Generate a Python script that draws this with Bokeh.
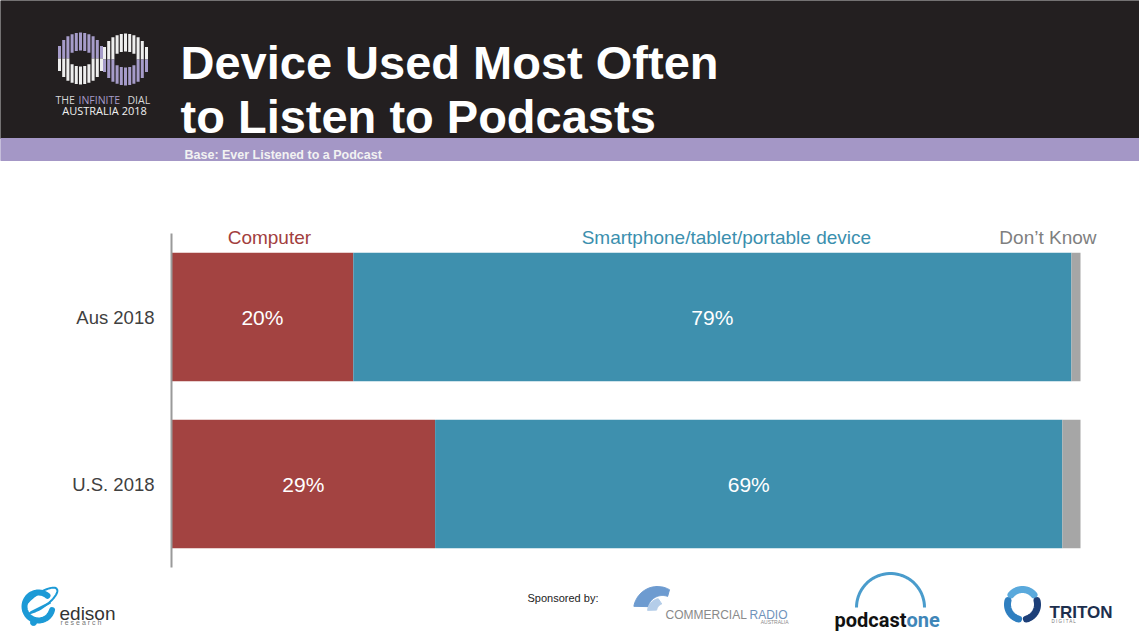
import numpy as np
from bokeh.plotting import figure
from bokeh.models import ColumnDataSource, Range1d, LinearAxis, FixedTicker
from bokeh.core.properties import value
from bokeh.embed import file_html
from bokeh.resources import INLINE

# ---------------- data ----------------
years = ["Aus 2018", "U.S. 2018"]
computer = [20, 29]
smartphone = [79, 69]
dont_know = [1, 2]
series_keys = ["computer", "smartphone", "dont_know"]
series_names = ["Computer", "Smartphone/tablet/portable device", "Don\u2019t Know"]
colors = ["#a34341", "#3e90ae", "#a6a6a6"]
label_colors = ["#a2403e", "#3b8fae", "#7f7f7f"]
title_lines = ["Device Used Most Often", "to Listen to Podcasts"]
base_note = "Base: Ever Listened to a Podcast"

# ---------------- page geometry (pixels) ----------------
W, H = 1139, 640
FL, FR, FT, FB = 171, 1080, 233, 567          # chart plotting area
FONT = "Liberation Sans"
n = len(years)
xpp = (FR - FL) / 100.0
ypu = (FB - FT) / n

p = figure(width=W, height=H,
           x_range=Range1d(-FL / xpp, 100 + (W - FR) / xpp),
           y_range=Range1d(-(H - FB) / ypu, n + FT / ypu),
           x_axis_type=None, y_axis_type=None, toolbar_location=None,
           output_backend="svg", min_border=0, outline_line_color=None,
           background_fill_color="white", border_fill_color="white")
p.extra_x_ranges = {"px": Range1d(0, W)}
p.extra_y_ranges = {"py": Range1d(H, 0)}
PG = dict(x_range_name="px", y_range_name="py")

# ---------------- header ----------------
p.quad(left=0, right=W, top=0, bottom=138, color="#231f20", **PG)
p.quad(left=0, right=W, top=138, bottom=160, color="#a497c6", **PG)
p.text(x=[180, 180], y=[62, 116], text=title_lines, text_font=value(FONT),
       text_font_style="bold", text_font_size="47px", text_color="white",
       text_baseline="alphabetic", **PG)
p.text(x=[184], y=[154], text=[base_note], text_font=value(FONT),
       text_font_style="bold", text_font_size="12.5px", text_color="#f2f2f2",
       text_baseline="alphabetic", **PG)


def ring(cx, cy, top_col, bot_col):
    rxo, ryo, rxi, ryi = 24, 26, 12, 8
    x0, y0, x1, y1, cl = [], [], [], [], []
    for dx in np.arange(-21, 22, 4.2):
        ho = ryo * np.sqrt(max(0.0, 1 - (dx / rxo) ** 2))
        hi = ryi * np.sqrt(max(0.0, 1 - (dx / rxi) ** 2)) if abs(dx) < rxi else 0.0
        x0 += [cx + dx, cx + dx]
        x1 += [cx + dx, cx + dx]
        y0 += [cy - ho, cy + hi]
        y1 += [cy - hi, cy + ho]
        cl += [top_col, bot_col]
    p.segment(x0=x0, y0=y0, x1=x1, y1=y1, line_color=cl, line_width=3, **PG)


ring(80, 58, "#a69cca", "#eeeeee")
ring(125, 59, "#eeeeee", "#a69cca")
for tx, tt, tc in [(55, "THE", "#d8d8d8"), (78, "INFINITE", "#a69cca"), (127, "DIAL", "#d8d8d8")]:
    p.text(x=[tx], y=[99], text=[tt], text_font=value("Open Sans"),
           text_font_size="10.5px", text_color=tc, text_baseline="alphabetic", **PG)
p.text(x=[104], y=[110], text=["AUSTRALIA 2018"], text_font=value("Open Sans"),
       text_font_size="11px", text_color="#f0f0f0", text_align="center",
       text_baseline="alphabetic", **PG)

# ---------------- chart ----------------
ypos = [n - 0.5 - i for i in range(n)]
src = ColumnDataSource(dict(year=years, ypos=ypos, computer=computer,
                            smartphone=smartphone, dont_know=dont_know))
p.hbar_stack(series_keys, y="ypos", height=0.77, color=colors, source=src,
             line_color=None)

lab_x = [c / 2 for c in computer] + [c + s / 2 for c, s in zip(computer, smartphone)]
lab_y = ypos + ypos
lab_t = [f"{v}%" for v in computer + smartphone]
p.text(x=lab_x, y=lab_y, text=lab_t, text_align="center", text_baseline="middle",
       text_color="white", text_font=value(FONT), text_font_size="21px")

# series headers above the first bar
hx = [computer[0] / 2, computer[0] + smartphone[0] / 2, 100]
hoff = [7, 14, 16]
halign = ["center", "center", "right"]
p.text(x=hx, y=[237] * 3, text=series_names, x_offset=hoff, text_align=halign,
       text_baseline="alphabetic", text_color=label_colors,
       text_font=value(FONT), text_font_size="19px", x_range_name="default",
       y_range_name="py")

yax = LinearAxis(fixed_location=0, bounds=(0, n),
                 ticker=FixedTicker(ticks=ypos),
                 major_label_overrides={y: lab for y, lab in zip(ypos, years)})
yax.axis_line_color = "#9a9a9a"
yax.axis_line_width = 2
yax.major_tick_line_color = None
yax.minor_tick_line_color = None
yax.major_tick_out = 0
yax.major_tick_in = 0
yax.major_label_standoff = 17
yax.major_label_text_font = FONT
yax.major_label_text_font_size = "18.5px"
yax.major_label_text_color = "#404040"
p.add_layout(yax, "left")


# ---------------- footer logos ----------------
def arc_pts(cx, cy, r, a0, a1, k=40):
    t = np.linspace(np.radians(a0), np.radians(a1), k)
    return list(cx + r * np.cos(t)), list(cy - r * np.sin(t))


# edison
ox = 40 + 20 * np.cos(np.linspace(0, 2 * np.pi, 60))
oy = 600 + 7 * np.sin(np.linspace(0, 2 * np.pi, 60))
rot = np.radians(-35)
p.line(list(40 + (ox - 40) * np.cos(rot) - (oy - 600) * np.sin(rot)),
       list(600 + (ox - 40) * np.sin(rot) + (oy - 600) * np.cos(rot)),
       line_color="#1c9ad6", line_width=2, **PG)
ex, ey = arc_pts(38, 606, 14, 50, 345)
p.line(ex, ey, line_color="#1c9ad6", line_width=6, line_cap="round", **PG)
p.segment(x0=[30], y0=[612], x1=[50], y1=[602], line_color="#1c9ad6",
          line_width=2, **PG)
p.circle(x=[33], y=[622], radius=3, color="#1c9ad6", **PG)
p.text(x=[59], y=[613], text=["edison"], text_font=value(FONT), text_font_size="19px",
       text_color="#333333", text_baseline="alphabetic", **PG)
p.text(x=[60], y=[622], text=["r e s e a r c h"], text_font=value(FONT),
       text_font_size="7px", text_color="#777777", text_baseline="alphabetic", **PG)
# sponsored
p.text(x=[527], y=[597], text=["Sponsored by:"], text_font=value(FONT),
       text_font_size="11px", text_color="#222222", text_baseline="alphabetic", **PG)
# commercial radio swoosh
o_x, o_y = arc_pts(657, 610, 24, 60, 170)
i_x, i_y = arc_pts(662, 610, 15, 165, 70)
p.patch(o_x + i_x, o_y + i_y, color="#6d9bd0", **PG)
o2x, o2y = arc_pts(660, 611, 13, 100, 175)
i2x, i2y = arc_pts(664, 611, 8, 170, 110)
p.patch(o2x + i2x, o2y + i2y, color="#b4cde9", **PG)
p.text(x=[665], y=[614], text=["COMMERCIAL"], text_font=value(FONT),
       text_font_size="12px", text_color="#8a8a8a", text_baseline="alphabetic", **PG)
p.text(x=[749], y=[614], text=["RADIO"], text_font=value(FONT),
       text_font_size="12px", text_color="#6f93bb", text_baseline="alphabetic", **PG)
p.text(x=[788], y=[621], text=["AUSTRALIA"], text_font=value(FONT), text_align="right",
       text_font_size="5px", text_color="#8a8a8a", text_baseline="alphabetic", **PG)
# podcastone
ax_, ay_ = arc_pts(890, 607, 34, 0, 180)
p.line(ax_, ay_, line_color="#4a9ccc", line_width=3, **PG)
p.text(x=[906], y=[619], text=["podcast"], text_font=value("Roboto"),
       text_font_style="bold", text_font_size="20px", text_color="#111111",
       text_align="right", text_baseline="alphabetic", **PG)
p.text(x=[906], y=[619], text=["one"], text_font=value("Roboto"),
       text_font_style="bold", text_font_size="20px", text_color="#3f86b8",
       text_baseline="alphabetic", **PG)
# triton
for a0, a1, col in [(40, 140, "#5aa9dc"), (165, 255, "#2f7fc0"), (285, 375, "#1d3f78")]:
    tx, ty = arc_pts(1022, 604, 15, a0, a1)
    p.line(tx, ty, line_color=col, line_width=7, line_cap="round", **PG)
p.text(x=[1049], y=[612], text=["TRITON"], text_font=value(FONT),
       text_font_style="bold", text_font_size="17px", text_color="#1d2f4e",
       text_baseline="alphabetic", **PG)
p.text(x=[1051], y=[621], text=["D   I   G   I   T   A   L"], text_font=value(FONT),
       text_font_size="4.5px", text_color="#777777", text_baseline="alphabetic", **PG)

open("out.html", "w").write(file_html(p, INLINE))
